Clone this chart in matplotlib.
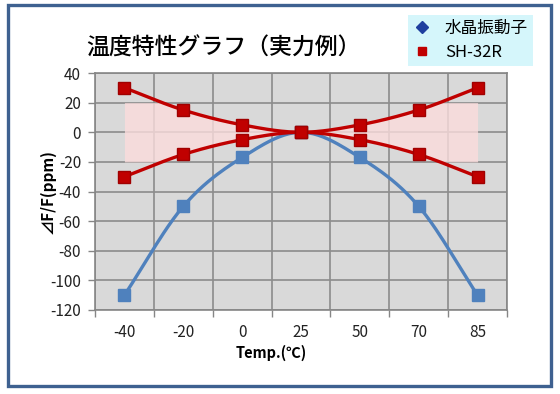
import numpy as np
import matplotlib.pyplot as plt
from matplotlib.lines import Line2D
from matplotlib.patches import Rectangle

plt.rcParams['font.family'] = ['Noto Sans CJK JP', 'DejaVu Sans']
plt.rcParams['axes.unicode_minus'] = False

temps = ['-40', '-20', '0', '25', '50', '70', '85']
crystal = [-110, -50, -17, 0, -17, -50, -110]
sh_upper = [30, 15, 5, 0, 5, 15, 30]
sh_lower = [-30, -15, -5, 0, -5, -15, -30]
band_limit = 20

blue = '#4f81bd'
red = '#c00000'


def smooth(xs, ys, n=24):
    # Catmull-Rom spline, close to Excel's smoothed line
    xs = np.asarray(xs, float)
    ys = np.asarray(ys, float)
    px = np.concatenate([[2 * xs[0] - xs[1]], xs, [2 * xs[-1] - xs[-2]]])
    py = np.concatenate([[2 * ys[0] - ys[1]], ys, [2 * ys[-1] - ys[-2]]])
    ox, oy = [], []
    t = np.linspace(0, 1, n, endpoint=False)
    for i in range(1, len(px) - 2):
        for p, o in ((px, ox), (py, oy)):
            p0, p1, p2, p3 = p[i - 1], p[i], p[i + 1], p[i + 2]
            v = 0.5 * ((2 * p1) + (-p0 + p2) * t + (2 * p0 - 5 * p1 + 4 * p2 - p3) * t ** 2
                       + (-p0 + 3 * p1 - 3 * p2 + p3) * t ** 3)
            o.extend(v)
    ox.append(xs[-1])
    oy.append(ys[-1])
    return np.array(ox), np.array(oy)


fig = plt.figure(figsize=(5.6, 3.94), dpi=100)
fig.patch.set_facecolor('white')
ax = fig.add_axes([95 / 560, 1 - 310 / 394, 412 / 560, 237 / 394])
ax.set_facecolor('#d9d9d9')

x = np.arange(len(temps))

# grid
for yv in range(-120, 41, 20):
    ax.axhline(yv, color='#8c8c8c', lw=1.2, zorder=1)
for xv in np.arange(-0.5, len(temps), 1.0):
    ax.axvline(xv, color='#8c8c8c', lw=1.2, zorder=1)

# pink band between the SH-32R curves
ux, uy = smooth(x, sh_upper)
lx, ly = smooth(x, sh_lower)
ax.fill_between(ux, np.minimum(uy, band_limit), np.maximum(ly, -band_limit),
                color='#fbdcdc', alpha=0.8, lw=0, zorder=2)

bx, by = smooth(x, crystal)
ax.plot(bx, by, color=blue, lw=2.4, zorder=3)
ax.plot(x, crystal, 's', color=blue, ms=8.5, mec=blue, zorder=4)

ax.plot(ux, uy, color=red, lw=2.4, zorder=5)
ax.plot(lx, ly, color=red, lw=2.4, zorder=5)
ax.plot(x, sh_upper, 's', color=red, ms=8.5, mec='#a00000', zorder=6)
ax.plot(x, sh_lower, 's', color=red, ms=8.5, mec='#a00000', zorder=6)

ax.set_xlim(-0.5, len(temps) - 0.5)
ax.set_ylim(-120, 40)
ax.set_yticks(range(-120, 41, 20))
ax.set_xticks(np.arange(-0.5, len(temps), 1.0), minor=False)
ax.set_xticklabels([])
ax.set_xticks(x, minor=True)
ax.set_xticklabels(temps, minor=True)
ax.tick_params(axis='x', which='major', length=5, color='#868686', width=1)
ax.tick_params(axis='x', which='minor', length=0, pad=10, labelsize=11, labelcolor='#222222')
ax.tick_params(axis='y', length=5, color='#868686', width=1, labelsize=11,
               labelcolor='#222222', pad=5)
for s in ax.spines.values():
    s.set_color('#868686')
    s.set_linewidth(1.2)

fig.text(0.485, 1 - 353 / 394, 'Temp.(℃)', ha='center', va='center',
         fontsize=10.5, fontweight='bold')
fig.text(48 / 560, 1 - 192 / 394, '⊿F/F(ppm)', ha='center', va='center',
         rotation=90, fontsize=11, fontweight='bold')

fig.text(223 / 560, 1 - 48 / 394, '温度特性グラフ（実力例）', ha='center', va='center',
         fontsize=16.5, fontweight='medium')

handles = [Line2D([], [], ls='none', marker='D', color='#1f3f9f', ms=6),
           Line2D([], [], ls='none', marker='s', color=red, ms=6)]
leg = fig.legend(handles, ['水晶振動子', 'SH-32R'], loc='upper right',
                 bbox_to_anchor=(533 / 560, 1 - 15 / 394), fontsize=12,
                 frameon=True, facecolor='#d5f6fb', edgecolor='none', fancybox=False,
                 framealpha=1, handlelength=1.0, handletextpad=0.9, labelspacing=0.4,
                 borderpad=0.3, borderaxespad=0)

fig.patches.append(Rectangle((7.5 / 560, 1 - 386 / 394), 543 / 560, 381 / 394,
                             transform=fig.transFigure, fill=False,
                             edgecolor='#3e6190', lw=2.4))

fig.savefig('out.png', dpi=100)
